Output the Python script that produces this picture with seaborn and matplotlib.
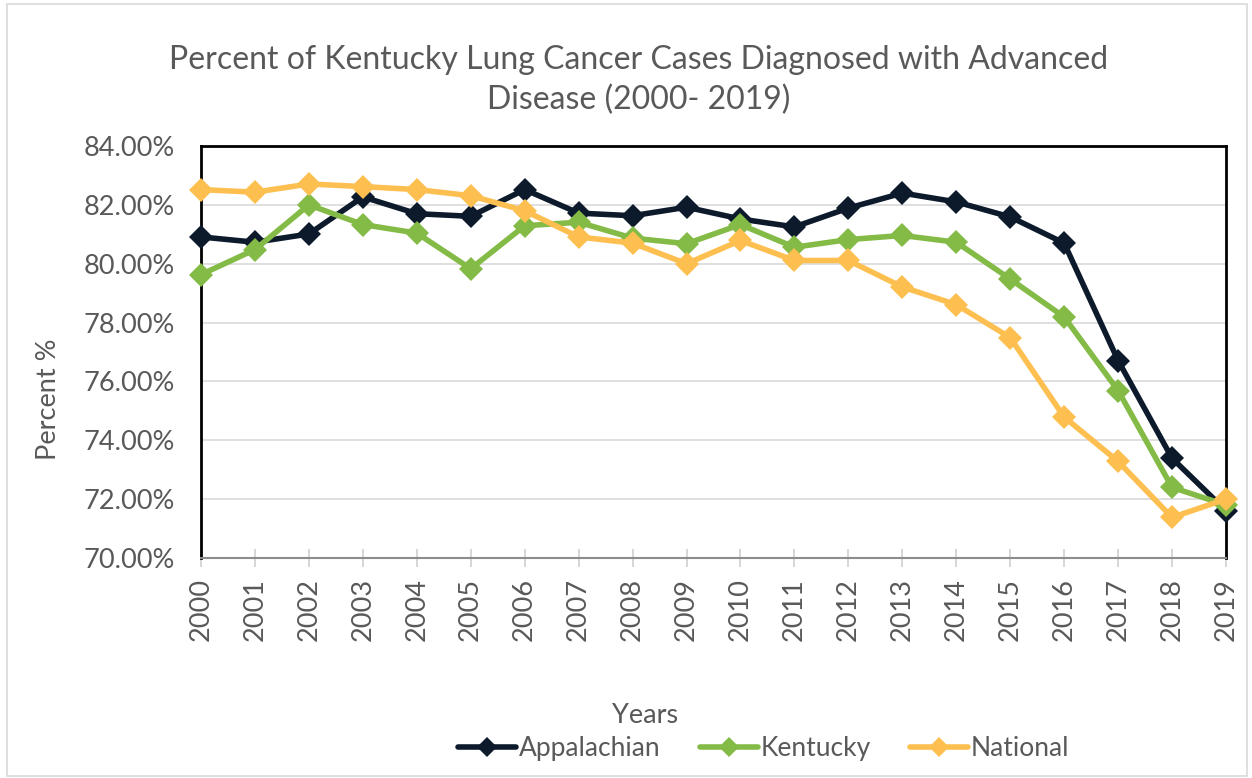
import matplotlib
matplotlib.use("Agg")
import matplotlib.pyplot as plt
import seaborn as sns
import pandas as pd
from matplotlib.lines import Line2D
from matplotlib.patches import Rectangle

years = list(range(2000, 2020))
appalachian = [80.91, 80.73, 81.01, 82.27, 81.70, 81.61, 82.52, 81.72, 81.63, 81.92,
               81.52, 81.25, 81.89, 82.40, 82.10, 81.59, 80.70, 76.71, 73.39, 71.61]
kentucky = [79.63, 80.48, 82.00, 81.33, 81.04, 79.83, 81.29, 81.41, 80.87, 80.68,
            81.33, 80.56, 80.82, 80.96, 80.73, 79.48, 78.19, 75.69, 72.40, 71.80]
national = [82.52, 82.43, 82.71, 82.62, 82.52, 82.31, 81.80, 80.91, 80.70, 80.00,
            80.79, 80.11, 80.11, 79.21, 78.61, 77.49, 74.79, 73.28, 71.38, 72.00]
series_names = ["Appalachian", "Kentucky", "National"]
colors = ["#0c1a2c", "#84bb47", "#fdbf50"]
y_ticks = [70, 72, 74, 76, 78, 80, 82, 84]

df = pd.DataFrame({
    "Year": years * 3,
    "Value": appalachian + kentucky + national,
    "Series": [series_names[0]] * 20 + [series_names[1]] * 20 + [series_names[2]] * 20,
})

sns.set_theme(style="white")
plt.rcParams["font.family"] = ["Lato", "DejaVu Sans"]
text_color = "#595959"

fig = plt.figure(figsize=(12.52, 7.78), dpi=100)
ax = fig.add_axes([201 / 1252, 1 - 558 / 778, (1226 - 201) / 1252, (558 - 146) / 778])

palette = dict(zip(series_names, colors))
sns.lineplot(data=df, x="Year", y="Value", hue="Series", palette=palette,
             marker="D", markersize=12.5, markeredgewidth=0, linewidth=4,
             legend=False, ax=ax, clip_on=False, zorder=3)

ax.set_xlim(2000, 2019)
ax.set_ylim(70, 84)
ax.set_yticks(y_ticks)
ax.set_yticklabels([f"{v:.2f}%" for v in y_ticks], fontsize=19.5, color=text_color)
ax.set_xticks(years)
ax.set_xticklabels([str(y) for y in years], rotation=90, fontsize=19.5, color=text_color)
ax.grid(axis="y", color="#d9d9d9", linewidth=1.2, zorder=0)
ax.grid(axis="x", visible=False)
ax.set_axisbelow(True)

for side in ["left", "top", "right"]:
    ax.spines[side].set_color("black")
    ax.spines[side].set_linewidth(2)
    ax.spines[side].set_visible(True)
ax.spines["bottom"].set_color("#8c8c8c")
ax.spines["bottom"].set_linewidth(1.5)
ax.spines["bottom"].set_visible(True)

ax.tick_params(axis="x", direction="inout", length=13, width=1.2, color="#d0d0d0",
               pad=8, bottom=True)
ax.tick_params(axis="y", length=0, pad=19)

ax.set_xlabel("Years", fontsize=19.5, color=text_color)
ax.xaxis.set_label_coords(0.433, -0.352)
ax.set_ylabel("Percent %", fontsize=19.5, color=text_color)
ax.yaxis.set_label_coords(-0.137, 0.386)

fig.text(0.51, 0.897, "Percent of Kentucky Lung Cancer Cases Diagnosed with Advanced\nDisease (2000- 2019)",
         ha="center", va="center", fontsize=23, color=text_color, linespacing=1.42)

handles = [Line2D([0], [0], color=c, marker="D", markersize=10, markeredgewidth=0, linewidth=4)
           for c in colors]
fig.legend(handles, series_names, loc="center", bbox_to_anchor=(0.61, 0.038), ncol=3,
           frameon=False, fontsize=19, labelcolor=text_color, handlelength=2.2,
           handletextpad=0.1, columnspacing=1.5)

fig.patches.append(Rectangle((7 / 1252, 2 / 778), 1 - 12 / 1252, 1 - 6 / 778,
                             transform=fig.transFigure, fill=False,
                             edgecolor="#d9d9d9", linewidth=1.2))

fig.savefig("out.png", dpi=100, facecolor="white")
